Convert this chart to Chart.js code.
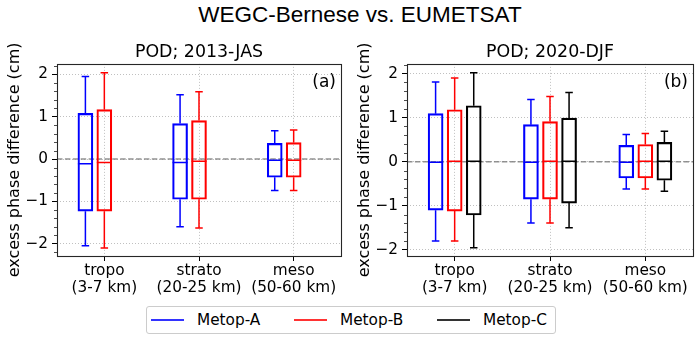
<!DOCTYPE html>
<html>
<head>
<meta charset="utf-8">
<script src="https://cdn.jsdelivr.net/npm/chart.js@4.4.1/dist/chart.umd.min.js"></script>
<style>
  html, body { margin:0; padding:0; background:#fff; }
  body { width:700px; height:341px; position:relative; overflow:hidden; font-family:"DejaVu Sans", sans-serif; color:#000; }
  #suptitle { position:absolute; left:10px; width:700px; top:2px; text-align:center; font-family:"Liberation Sans", Arial, sans-serif; font-size:22.5px; line-height:26px; white-space:nowrap; }
  canvas { position:absolute; top:0; }
  #legend { position:absolute; left:146px; top:306px; width:408px; height:26px; border:1px solid #cccccc; border-radius:3px; box-sizing:content-box; }
  .sw { position:absolute; height:2px; width:33px; top:12px; }
  .lt { position:absolute; top:4px; font-size:15.3px; line-height:18px; white-space:nowrap; }
</style>
</head>
<body>
<div id="suptitle">WEGC-Bernese vs. EUMETSAT</div>
<canvas id="panelA" width="350" height="300" style="left:0px"></canvas>
<canvas id="panelB" width="350" height="300" style="left:350px"></canvas>
<div id="legend"></div>
<script>
// ---------------- data ----------------
const categories = ['tropo', 'strato', 'meso'];
const altitudes  = ['(3-7 km)', '(20-25 km)', '(50-60 km)'];
const seriesNames = ['Metop-A', 'Metop-B', 'Metop-C'];
const yTickValues = [-2, -1, 0, 1, 2];

// Panel (a): POD; 2013-JAS
const jasA_low = [-2.05, -1.60, -0.74];
const jasA_q1  = [-1.23, -0.95, -0.43];
const jasA_med = [-0.11, -0.08, -0.03];
const jasA_q3  = [ 1.08,  0.84,  0.37];
const jasA_high= [ 1.95,  1.52,  0.67];

const jasB_low = [-2.10, -1.63, -0.74];
const jasB_q1  = [-1.23, -0.95, -0.43];
const jasB_med = [-0.08, -0.05, -0.03];
const jasB_q3  = [ 1.17,  0.91,  0.39];
const jasB_high= [ 2.04,  1.59,  0.69];

// Panel (b): POD; 2020-DJF
const djfA_low = [-1.80, -1.39, -0.62];
const djfA_q1  = [-1.10, -0.85, -0.37];
const djfA_med = [-0.01, -0.01, -0.01];
const djfA_q3  = [ 1.09,  0.84,  0.37];
const djfA_high= [ 1.81,  1.41,  0.62];

const djfB_low = [-1.80, -1.39, -0.62];
const djfB_q1  = [-1.12, -0.85, -0.37];
const djfB_med = [ 0.01,  0.01,  0.01];
const djfB_q3  = [ 1.18,  0.91,  0.39];
const djfB_high= [ 1.90,  1.48,  0.64];

const djfC_low = [-1.95, -1.50, -0.67];
const djfC_q1  = [-1.21, -0.94, -0.42];
const djfC_med = [ 0.01,  0.01,  0.01];
const djfC_q3  = [ 1.27,  0.99,  0.44];
const djfC_high= [ 2.02,  1.57,  0.69];

// ---------------- styles ----------------
const seriesColors = ['#0000ff', '#ff0000', '#000000'];
const seriesOffsets = [-0.2, 0, 0.2];
const FONT = '"DejaVu Sans", sans-serif';

function mkSeries(si, low, q1, med, q3, high) {
  return {
    label: seriesNames[si],
    data: categories.map((c, i) => ({ x: i + 1 + seriesOffsets[si], y: [q1[i], q3[i]] })),
    low: low, med: med, high: high,
    backgroundColor: 'rgba(0,0,0,0)',
    borderColor: seriesColors[si],
    borderWidth: 1.5,
    borderSkipped: false,
    barThickness: 15,
    grouped: false
  };
}

const boxPlugin = {
  id: 'boxExtras',
  beforeDatasetsDraw(chart) {
    const {ctx, chartArea: a, scales: {y}} = chart;
    const py = y.getPixelForValue(0);
    ctx.save();
    ctx.strokeStyle = 'rgba(128,128,128,0.85)';
    ctx.lineWidth = 1.5;
    ctx.setLineDash([5.5, 2.4]);
    ctx.beginPath();
    ctx.moveTo(a.left, py);
    ctx.lineTo(a.right, py);
    ctx.stroke();
    ctx.restore();
  },
  afterDatasetsDraw(chart) {
    const {ctx, scales: {y}} = chart;
    ctx.save();
    ctx.lineWidth = 1.5;
    chart.data.datasets.forEach((ds, di) => {
      const meta = chart.getDatasetMeta(di);
      ctx.strokeStyle = ds.borderColor;
      meta.data.forEach((el, i) => {
        const {x, width} = el.getProps(['x', 'width'], true);
        const yq1 = y.getPixelForValue(ds.data[i].y[0]);
        const yq3 = y.getPixelForValue(ds.data[i].y[1]);
        const yl = y.getPixelForValue(ds.low[i]);
        const yh = y.getPixelForValue(ds.high[i]);
        const ym = y.getPixelForValue(ds.med[i]);
        const cw = width / 4;
        ctx.beginPath();
        ctx.moveTo(x, yq3); ctx.lineTo(x, yh);
        ctx.moveTo(x - cw, yh); ctx.lineTo(x + cw, yh);
        ctx.moveTo(x, yq1); ctx.lineTo(x, yl);
        ctx.moveTo(x - cw, yl); ctx.lineTo(x + cw, yl);
        ctx.moveTo(x - width / 2, ym); ctx.lineTo(x + width / 2, ym);
        ctx.stroke();
      });
    });
    ctx.restore();
  },
  afterDraw(chart) {
    const {ctx, chartArea: a, scales: {y}} = chart;
    ctx.save();
    // minor ticks on y axis
    ctx.strokeStyle = '#000';
    ctx.lineWidth = 0.7;
    ctx.beginPath();
    for (let k = Math.ceil(y.min * 5); k <= Math.floor(y.max * 5); k++) {
      if (k % 5 === 0) continue;
      const py = Math.round(y.getPixelForValue(k / 5)) + 0.5;
      ctx.moveTo(a.left - 3, py); ctx.lineTo(a.left, py);
    }
    ctx.stroke();
    // frame
    ctx.strokeStyle = '#262626';
    ctx.lineWidth = 1.1;
    ctx.strokeRect(Math.round(a.left) + 0.5, Math.round(a.top) + 0.5, Math.round(a.right - a.left), Math.round(a.bottom - a.top));
    // panel tag
    ctx.fillStyle = '#000';
    ctx.font = '17px ' + FONT;
    ctx.textAlign = 'right';
    ctx.textBaseline = 'alphabetic';
    ctx.fillText(chart.options.plugins.panelTag, a.right - 5, a.top + 23);
    ctx.restore();
  }
};

function fmtTick(v) { return v < 0 ? '\u2212' + Math.abs(v) : String(v); }

function makePanel(id, title, tag, datasets, yMin, yMax, padRight) {
  return new Chart(document.getElementById(id), {
    type: 'bar',
    data: { datasets: datasets },
    plugins: [boxPlugin],
    options: {
      responsive: false,
      animation: false,
      events: [],
      layout: { padding: { top: 42, left: 0, right: padRight, bottom: 0 } },
      plugins: {
        legend: { display: false },
        tooltip: { enabled: false },
        panelTag: tag,
        title: {
          display: true, text: title, fullSize: false, color: '#000',
          font: { family: FONT, size: 17.4, weight: 'normal', lineHeight: 1.2 },
          padding: { top: 0, bottom: 1 }
        }
      },
      scales: {
        x: {
          type: 'linear', min: 0.5, max: 3.5, offset: false,
          afterBuildTicks: s => { s.ticks = categories.map((c, i) => ({ value: i + 1 })); },
          afterFit: s => { s.height = 44; },
          ticks: {
            color: '#000', padding: 2, maxRotation: 0, autoSkip: false,
            font: { family: FONT, size: 15.3, lineHeight: 1.1 },
            callback: v => [categories[v - 1], altitudes[v - 1]]
          },
          grid: { color: '#b0b0b0', lineWidth: 0.8, offset: false, drawTicks: true, tickLength: 5, tickColor: '#000', tickWidth: 1 },
          border: { display: false, dash: [1, 2] }
        },
        y: {
          type: 'linear', min: yMin, max: yMax,
          afterBuildTicks: s => { s.ticks = yTickValues.map(v => ({ value: v })); },
          afterFit: s => { s.width = 57; },
          ticks: { color: '#000', padding: 4, font: { family: FONT, size: 15.3 }, callback: v => fmtTick(v) },
          grid: { color: '#b0b0b0', lineWidth: 0.8, drawTicks: true, tickLength: 5, tickColor: '#000', tickWidth: 1 },
          border: { display: false, dash: [1, 2] },
          title: {
            display: true, text: 'excess phase difference (cm)', color: '#000',
            font: { family: FONT, size: 16, lineHeight: 1.2 }, padding: { top: 5, bottom: 0 }
          }
        }
      }
    }
  });
}

makePanel('panelA', 'POD; 2013-JAS', '(a)', [
  mkSeries(0, jasA_low, jasA_q1, jasA_med, jasA_q3, jasA_high),
  mkSeries(1, jasB_low, jasB_q1, jasB_med, jasB_q3, jasB_high)
], -2.29, 2.25, 9);

makePanel('panelB', 'POD; 2020-DJF', '(b)', [
  mkSeries(0, djfA_low, djfA_q1, djfA_med, djfA_q3, djfA_high),
  mkSeries(1, djfB_low, djfB_q1, djfB_med, djfB_q3, djfB_high),
  mkSeries(2, djfC_low, djfC_q1, djfC_med, djfC_q3, djfC_high)
], -2.14, 2.22, 7);

// legend (HTML, built from series names/colours)
const legend = document.getElementById('legend');
const legendSwatchX = [4, 147, 290];
seriesNames.forEach((name, i) => {
  const sw = document.createElement('div');
  sw.className = 'sw';
  sw.style.left = legendSwatchX[i] + 'px';
  sw.style.background = seriesColors[i];
  sw.style.opacity = '0.8';
  legend.appendChild(sw);
  const t = document.createElement('div');
  t.className = 'lt';
  t.style.left = (legendSwatchX[i] + 46) + 'px';
  t.textContent = name;
  legend.appendChild(t);
});
</script>
</body>
</html>
